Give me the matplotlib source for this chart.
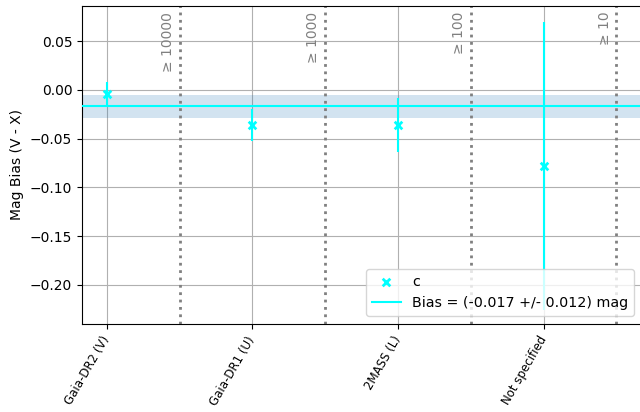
import matplotlib
matplotlib.use("Agg")
import matplotlib.pyplot as plt
import numpy as np

categories = ["Gaia-DR2 (V)", "Gaia-DR1 (U)", "2MASS (L)", "Not specified"]
bias_values = [-0.004, -0.036, -0.036, -0.078]
bias_errors = [0.012, 0.016, 0.028, 0.148]
threshold_labels = ["≥ 10000", "≥ 1000", "≥ 100", "≥ 10"]
mean_bias = -0.017
mean_err = 0.012

W, H = 640, 412
fig = plt.figure(figsize=(W / 100, H / 100), dpi=100)
left, right, top, bottom = 82, 660, 6, 324
ax = fig.add_axes([left / W, 1 - bottom / H, (right - left) / W, (bottom - top) / H])

x = np.arange(len(categories))
ax.axhspan(mean_bias - mean_err, mean_bias + mean_err, color="#1f77b4", alpha=0.2, lw=0, zorder=1)
ax.axhline(mean_bias, color="cyan", lw=1.5, zorder=3,
           label=f"Bias = ({mean_bias:.3f} +/- {mean_err:.3f}) mag")
ax.errorbar(x, bias_values, yerr=bias_errors, fmt="none", ecolor="cyan", lw=1.5, zorder=4)
ax.scatter(x, bias_values, marker="x", color="cyan", s=30, lw=2, zorder=5, label="c")

for i, lab in enumerate(threshold_labels):
    xb = i + 0.5
    ax.axvline(xb, color="gray", ls=":", lw=2, zorder=2)
    ax.text(xb - 0.08, 0.080, lab, rotation=90, color="gray", ha="center", va="top", fontsize=10)

ax.set_xlim(-0.17, 3.8)
ax.set_ylim(-0.24, 0.086)
ax.set_xticks(x)
ax.set_xticklabels(categories, rotation=60, ha="right", va="center", fontsize=8.5,
                   rotation_mode="anchor")
ax.tick_params(axis="x", pad=6)
ax.set_yticks([0.05, 0.0, -0.05, -0.10, -0.15, -0.20])
ax.set_yticklabels(["0.05", "0.00", "\u22120.05", "\u22120.10", "\u22120.15", "\u22120.20"], fontsize=10)
ax.set_ylabel("Mag Bias (V - X)", fontsize=10)
ax.grid(True, color="#b0b0b0", lw=0.8, zorder=0)
ax.set_axisbelow(True)

handles, labels = ax.get_legend_handles_labels()
order = [labels.index("c"), 1 - labels.index("c")]
ax.legend([handles[i] for i in order], [labels[i] for i in order],
          loc="lower right", bbox_to_anchor=((634 - left) / (right - left), (324 - 316) / (bottom - top)),
          borderaxespad=0, fontsize=10.3, framealpha=0.8)

fig.savefig("out.png", dpi=100)
